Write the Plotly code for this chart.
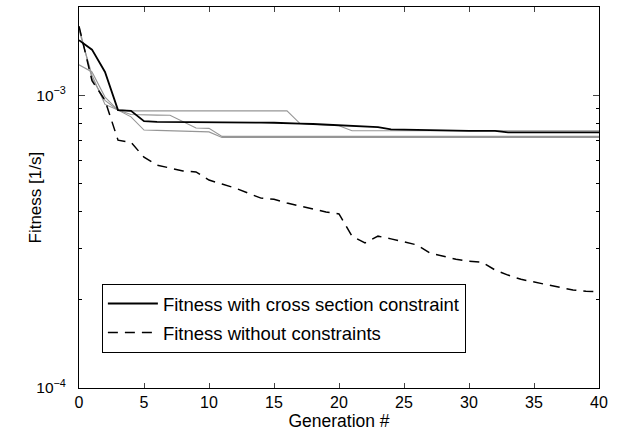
import numpy as np
import plotly.graph_objects as go

generations = list(range(41))

fitness_cross_section = [1.54e-3, 1.43e-3, 1.20e-3, 8.89e-4, 8.84e-4, 8.15e-4,
    8.10e-4, 8.10e-4, 8.09e-4, 8.09e-4, 8.08e-4, 8.08e-4, 8.07e-4, 8.06e-4, 8.06e-4, 8.05e-4,
    8.04e-4, 8.00e-4, 7.97e-4, 7.93e-4, 7.90e-4, 7.84e-4, 7.81e-4, 7.78e-4, 7.64e-4, 7.62e-4,
    7.60e-4, 7.57e-4,
    7.55e-4, 7.55e-4, 7.55e-4, 7.55e-4, 7.55e-4,
    7.46e-4, 7.46e-4, 7.46e-4, 7.46e-4, 7.46e-4, 7.46e-4, 7.46e-4, 7.46e-4]

run_a = [1.71e-3, 1.14e-3, 9.6e-4, 8.89e-4] + [8.84e-4] * 13 + [8.00e-4, 7.95e-4, 7.90e-4, 7.86e-4] + [7.56e-4] * 20
run_b = [1.27e-3, 1.20e-3, 9.85e-4, 8.89e-4, 8.59e-4, 8.55e-4, 8.55e-4, 8.54e-4, 8.12e-4, 7.72e-4, 7.70e-4] + [7.23e-4] * 30
run_c = [1.67e-3, 1.17e-3, 9.3e-4, 8.89e-4, 8.43e-4, 7.60e-4, 7.58e-4, 7.56e-4, 7.54e-4, 7.52e-4, 7.49e-4] + [7.17e-4] * 30

fitness_unconstrained = [1.72e-3, 1.12e-3, 9.6e-4, 7.02e-4, 6.90e-4, 6.14e-4, 5.77e-4, 5.64e-4,
    5.51e-4, 5.47e-4, 5.13e-4, 4.97e-4, 4.82e-4, 4.63e-4, 4.45e-4, 4.41e-4, 4.28e-4, 4.18e-4,
    4.08e-4, 3.99e-4, 3.93e-4, 3.30e-4, 3.13e-4, 3.30e-4, 3.23e-4, 3.15e-4, 3.08e-4, 2.89e-4,
    2.82e-4, 2.75e-4, 2.71e-4, 2.69e-4, 2.53e-4, 2.43e-4, 2.35e-4, 2.30e-4, 2.25e-4, 2.20e-4,
    2.16e-4, 2.14e-4, 2.13e-4]

x_ticks = [0, 5, 10, 15, 20, 25, 30, 35, 40]
y_major = [1e-4, 1e-3]
y_major_text = ["10<sup>−4</sup>", "10<sup>−3</sup>"]
y_minor = [2e-4, 3e-4, 4e-4, 5e-4, 6e-4, 7e-4, 8e-4, 9e-4, 2e-3]

FONT = "Liberation Sans, Arial, sans-serif"
fig = go.Figure()

for run in (run_a, run_b, run_c):
    fig.add_trace(go.Scatter(x=generations, y=run, mode="lines",
                             line=dict(color="rgb(150,150,150)", width=1.1),
                             showlegend=False, hoverinfo="skip"))

fig.add_trace(go.Scatter(x=generations, y=fitness_cross_section, mode="lines",
                         name="Fitness with cross section constraint",
                         line=dict(color="black", width=1.8), legendgroup="a"))
fig.add_trace(go.Scatter(x=generations, y=fitness_unconstrained, mode="lines",
                         name="Fitness without constraints",
                         line=dict(color="black", width=1.5, dash="10px,7px"), legendgroup="b"))

fig.update_layout(
    width=621, height=437,
    margin=dict(l=79, r=22, t=7, b=49),
    paper_bgcolor="white", plot_bgcolor="white",
    font=dict(family=FONT, size=16, color="black"),
    legend=dict(x=0.044, y=0.273, xanchor="left", yanchor="top",
                bordercolor="black", borderwidth=1, bgcolor="white",
                font=dict(size=18.5), traceorder="grouped", tracegroupgap=2,
                itemwidth=50),
    annotations=[dict(text="Fitness [1/s]", x=0, y=0.5, xref="paper", yref="paper",
                      xanchor="center", yanchor="middle", textangle=-90, xshift=-44,
                      showarrow=False, font=dict(size=17))],
)
fig.update_xaxes(range=[0, 40], tickvals=x_ticks, ticks="inside", ticklen=5,
                 showline=True, linecolor="black", linewidth=1, mirror="allticks",
                 showgrid=False, zeroline=False, tickfont=dict(size=16),
                 title=dict(text="Generation #", standoff=2, font=dict(size=17.5)))
fig.update_yaxes(type="log", range=[-4, np.log10(2e-3)], tickvals=y_major, ticktext=y_major_text,
                 ticks="inside", ticklen=6, showline=True, linecolor="black", linewidth=1,
                 mirror="allticks", showgrid=False, zeroline=False, ticklabelstandoff=9,
                 tickfont=dict(size=15.5),
                 minor=dict(tickvals=y_minor, ticks="inside", ticklen=3, tickcolor="black"))

fig.write_html("out.html", config={"displayModeBar": False},
               post_script="document.body.style.margin='0';")
